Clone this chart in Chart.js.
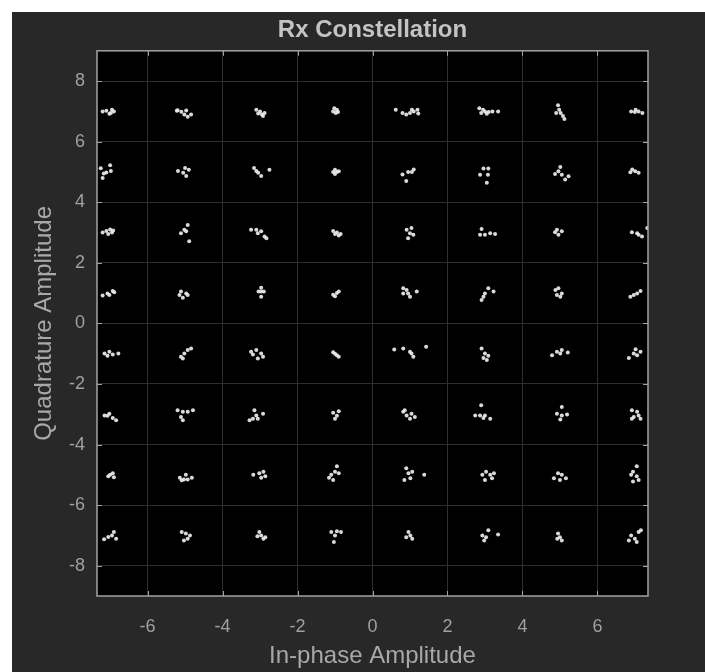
<!DOCTYPE html>
<html><head><meta charset="utf-8">
<script src="https://cdn.jsdelivr.net/npm/chart.js@4/dist/chart.umd.min.js"></script>
<style>html,body{margin:0;padding:0;background:#fff;overflow:hidden}canvas{display:block}</style>
</head><body>
<canvas id="c" width="705" height="672"></canvas>
<script>
const titleText = 'Rx Constellation';
const xLabel = 'In-phase Amplitude';
const yLabel = 'Quadrature Amplitude';
const xTicks = [-6, -4, -2, 0, 2, 4, 6];
const yTicks = [-8, -6, -4, -2, 0, 2, 4, 6, 8];
const xLimits = [-7.35, 7.35];
const yLimits = [-9, 9];

// received symbols, grouped by constellation row (Q level)
const row7 = [
 [-7.2,7.0],[-7.1,7.02],[-6.98,6.95],[-6.9,7.0],[-7.02,6.92],[-6.95,7.05],
 [-5.2,7.04],[-5.1,6.99],[-4.97,7.03],[-4.84,6.9],[-4.93,6.82],[-5.02,6.9],[-5.22,7.02],
 [-3.1,7.05],[-3.0,7.0],[-2.95,6.9],[-2.88,6.95],[-3.05,6.93],[-2.92,6.85],
 [-1.05,7.0],[-0.98,6.95],[-0.95,7.05],[-1.02,7.1],[-0.92,6.98],
 [0.62,7.05],[0.8,6.95],[0.9,6.9],[1.0,6.95],[1.1,7.0],[1.2,7.05],[1.22,6.93],[1.05,7.05],
 [2.85,7.1],[2.9,6.95],[3.0,7.0],[3.1,6.98],[3.2,7.0],[3.35,7.0],[2.95,7.05],[3.05,6.92],
 [4.95,7.2],[4.98,7.05],[5.02,6.95],[5.08,6.85],[5.12,6.75],[4.9,6.95],
 [6.9,7.0],[7.0,6.98],[7.1,7.0],[7.2,6.95],[7.02,7.05]
];
const row5 = [
 [-7.25,5.12],[-7.17,4.95],[-7.0,5.22],[-7.2,4.8],[-6.98,5.03],[-7.1,4.98],
 [-5.19,5.03],[-5.05,4.97],[-4.97,4.87],[-4.9,5.07],[-5.0,5.13],
 [-3.16,5.13],[-3.05,4.97],[-2.97,4.87],[-2.75,5.07],[-3.1,5.03],
 [-1.05,5.0],[-0.95,5.0],[-1.0,5.07],[-1.0,4.93],[-0.9,5.02],
 [0.8,4.92],[0.95,5.0],[1.05,5.0],[1.1,5.08],[0.9,4.7],
 [2.96,5.11],[3.09,5.11],[2.87,4.91],[3.08,4.91],[3.05,4.64],
 [5.01,5.16],[4.87,4.93],[5.05,4.91],[5.14,4.75],[5.23,4.86],[4.96,5.02],
 [6.93,5.08],[7.01,5.02],[7.1,4.97],[6.88,4.99]
];
const row3 = [
 [-7.2,3.0],[-7.1,3.05],[-7.0,3.1],[-6.95,3.0],[-7.05,2.95],[-6.92,3.07],
 [-4.93,3.25],[-5.11,2.98],[-4.97,3.04],[-4.89,2.71],[-5.02,3.09],
 [-3.24,3.09],[-3.1,3.09],[-2.97,3.04],[-2.88,2.87],[-2.83,2.81],[-3.06,2.98],
 [-1.05,3.05],[-0.95,3.0],[-0.9,2.9],[-1.0,2.95],[-0.85,2.95],
 [0.91,3.09],[1.04,3.15],[1.09,2.93],[0.95,2.81],[1.0,2.98],
 [2.91,3.12],[3.0,2.93],[3.14,2.98],[3.27,2.95],[2.87,2.93],
 [4.92,3.09],[5.05,3.04],[4.96,2.93],[4.87,3.01],
 [6.92,3.01],[7.06,2.98],[7.19,2.87],[7.33,3.15],[7.1,2.93]
];
const row1 = [
 [-7.2,0.92],[-7.07,0.99],[-6.93,1.07],[-6.89,1.03],[-7.02,0.94],
 [-5.11,1.05],[-4.97,0.99],[-5.06,0.85],[-4.93,0.94],[-5.15,0.94],
 [-2.97,1.05],[-3.04,1.05],[-2.9,1.05],[-2.97,1.18],[-2.97,0.88],
 [-1.05,0.95],[-0.95,1.0],[-0.9,1.05],[-1.0,0.9],
 [0.82,1.16],[0.91,1.1],[0.95,0.99],[1.18,1.05],[1.0,0.88],[0.82,0.99],
 [3.09,1.16],[3.0,0.99],[2.96,0.88],[3.23,1.05],[2.91,0.77],
 [4.88,1.1],[4.96,1.16],[5.05,0.99],[4.92,0.94],[5.01,0.88],
 [6.88,0.88],[7.06,0.99],[7.15,1.07],[6.97,0.94]
];
const rowM1 = [
 [-7.15,-0.99],[-7.02,-0.94],[-7.07,-1.07],[-6.93,-1.03],[-6.78,-0.99],
 [-5.11,-1.1],[-5.02,-0.99],[-4.93,-0.88],[-4.84,-0.83],[-5.06,-1.16],
 [-3.24,-0.94],[-3.1,-0.88],[-2.97,-0.99],[-2.92,-1.1],[-3.06,-1.16],[-3.19,-1.03],
 [-1.05,-0.95],[-0.95,-1.05],[-0.9,-1.1],[-1.0,-1.0],
 [0.58,-0.86],[0.82,-0.83],[1.0,-0.94],[1.09,-1.1],[1.04,-0.99],[1.43,-0.77],
 [2.91,-0.83],[3.0,-0.99],[3.09,-1.07],[3.05,-1.21],[2.96,-1.14],
 [4.79,-1.05],[4.92,-0.94],[5.05,-0.88],[5.21,-0.96],[5.01,-0.99],
 [6.84,-1.14],[6.97,-0.99],[7.06,-1.05],[7.15,-0.94],[7.02,-0.85]
];
const rowM3 = [
 [-7.15,-3.04],[-7.02,-2.98],[-6.93,-3.12],[-6.84,-3.2],[-7.07,-3.05],
 [-5.2,-2.87],[-5.06,-2.92],[-5.11,-3.09],[-4.93,-2.92],[-4.79,-2.87],[-5.06,-3.2],
 [-3.15,-2.87],[-3.1,-3.04],[-3.19,-3.15],[-3.28,-3.2],[-2.92,-2.98],[-3.06,-3.15],
 [-1.05,-2.95],[-0.95,-3.05],[-0.9,-2.9],[-1.0,-3.15],
 [0.82,-2.92],[0.91,-3.04],[1.04,-2.98],[1.0,-3.15],[1.13,-3.09],[0.86,-2.87],
 [2.9,-2.7],[2.74,-3.04],[2.87,-3.04],[3.0,-3.04],[3.14,-3.15],[2.96,-3.12],
 [5.05,-2.76],[4.92,-2.98],[5.05,-3.04],[5.19,-3.01],[5.01,-3.17],
 [6.92,-2.87],[7.06,-2.92],[6.97,-3.09],[7.1,-3.04],[7.15,-3.15],[6.92,-3.15]
];
const rowM5 = [
 [-7.0,-5.0],[-6.93,-4.95],[-7.05,-5.05],[-6.9,-5.08],
 [-5.14,-5.1],[-5.03,-5.15],[-4.93,-5.15],[-4.82,-5.1],[-4.98,-5.0],[-5.09,-5.18],
 [-3.18,-5.0],[-3.02,-4.95],[-2.91,-4.9],[-2.86,-5.05],[-2.97,-5.1],
 [-0.95,-4.72],[-1.0,-4.9],[-1.1,-5.0],[-1.05,-5.17],[-0.9,-4.95],[-1.16,-5.1],
 [0.9,-4.78],[0.96,-4.95],[0.85,-5.17],[1.01,-5.11],[1.38,-5.0],[1.06,-4.9],
 [2.93,-5.0],[3.03,-4.9],[3.14,-5.0],[3.19,-5.11],[3.0,-5.17],[3.24,-4.95],
 [4.84,-5.11],[4.95,-4.95],[5.05,-5.0],[5.16,-5.11],[5.0,-5.17],
 [7.05,-4.72],[6.95,-4.9],[6.9,-5.0],[7.05,-5.05],[6.95,-5.22],[7.1,-5.17]
];
const rowM7 = [
 [-7.16,-7.13],[-7.05,-7.05],[-6.95,-7.0],[-6.84,-7.11],[-6.9,-6.89],
 [-5.09,-6.89],[-4.98,-6.94],[-4.93,-7.11],[-5.03,-7.17],[-4.87,-7.0],
 [-3.02,-6.89],[-2.97,-7.0],[-2.91,-7.11],[-3.07,-7.03],[-2.86,-7.06],
 [-1.1,-6.89],[-0.95,-6.86],[-0.84,-6.89],[-1.0,-7.0],[-1.03,-7.22],
 [0.96,-6.89],[1.01,-7.0],[1.06,-7.11],[0.9,-7.06],
 [2.93,-7.0],[2.98,-7.17],[3.09,-6.83],[3.03,-7.06],[3.35,-6.97],
 [4.95,-6.94],[5.0,-7.06],[5.05,-7.17],[4.93,-7.11],
 [6.9,-7.0],[7.0,-7.11],[7.1,-6.89],[7.16,-6.83],[7.05,-7.22],[6.84,-7.17]
];

const symbols = [...row7, ...row5, ...row3, ...row1, ...rowM1, ...rowM3, ...rowM5, ...rowM7]
  .map(([x, y]) => ({x, y}));

const FONT = "'Liberation Sans', Arial, sans-serif";

const frame = {
  id: 'frame',
  beforeDraw(chart) {
    const {ctx, chartArea: a} = chart;
    ctx.save();
    ctx.fillStyle = '#ffffff';
    ctx.fillRect(0, 0, chart.width, chart.height);
    ctx.fillStyle = '#282828';
    ctx.fillRect(12, 12, chart.width - 12, chart.height - 12);
    ctx.fillStyle = '#000000';
    ctx.fillRect(a.left, a.top, a.right - a.left, a.bottom - a.top);
    ctx.restore();
  },
  afterDraw(chart) {
    const {ctx, chartArea: a, scales: {x, y}} = chart;
    ctx.save();
    ctx.strokeStyle = '#a3a3a3';
    ctx.lineWidth = 1.5;
    ctx.strokeRect(a.left, a.top, a.right - a.left, a.bottom - a.top);
    ctx.lineWidth = 1;
    ctx.beginPath();
    x.ticks.forEach(t => {
      const p = Math.round(x.getPixelForValue(t.value)) + 0.5;
      ctx.moveTo(p, a.bottom); ctx.lineTo(p, a.bottom - 5);
      ctx.moveTo(p, a.top); ctx.lineTo(p, a.top + 5);
    });
    y.ticks.forEach(t => {
      const p = Math.round(y.getPixelForValue(t.value)) + 0.5;
      ctx.moveTo(a.left, p); ctx.lineTo(a.left + 5, p);
      ctx.moveTo(a.right, p); ctx.lineTo(a.right - 5, p);
    });
    ctx.stroke();
    ctx.restore();
  }
};

new Chart(document.getElementById('c'), {
  type: 'scatter',
  data: {
    datasets: [{
      label: 'Rx',
      data: symbols,
      pointRadius: 2,
      pointBorderWidth: 0,
      pointBackgroundColor: 'rgba(235,235,235,0.92)',
      showLine: false
    }]
  },
  options: {
    responsive: false,
    devicePixelRatio: 1,
    animation: false,
    layout: {padding: {left: 12, top: 12, right: 57, bottom: 0}},
    plugins: {
      legend: {display: false},
      tooltip: {enabled: false},
      title: {
        display: true,
        text: titleText,
        fullSize: false,
        color: '#c4c4c4',
        font: {family: FONT, size: 24, weight: 'bold'},
        padding: {top: 4, bottom: 6}
      }
    },
    scales: {
      x: {
        type: 'linear',
        min: xLimits[0], max: xLimits[1],
        afterBuildTicks: s => { s.ticks = xTicks.map(v => ({value: v})); },
        afterFit: s => { s.height = 76; },
        grid: {color: '#2e2e2e', lineWidth: 1, drawTicks: false},
        border: {display: false},
        ticks: {color: '#a0a0a0', font: {family: FONT, size: 18}, padding: 20},
        title: {display: true, text: xLabel, color: '#a8a8a8', font: {family: FONT, size: 24}, padding: {top: 0, bottom: 1}}
      },
      y: {
        type: 'linear',
        min: yLimits[0], max: yLimits[1],
        afterBuildTicks: s => { s.ticks = yTicks.map(v => ({value: v})); },
        afterFit: s => { s.width = 85; },
        grid: {color: '#2e2e2e', lineWidth: 1, drawTicks: false},
        border: {display: false},
        ticks: {color: '#a0a0a0', font: {family: FONT, size: 18}, padding: 12},
        title: {display: true, text: yLabel, color: '#a8a8a8', font: {family: FONT, size: 24}, padding: {top: 18, bottom: 0}}
      }
    }
  },
  plugins: [frame]
});
</script>
</body></html>
